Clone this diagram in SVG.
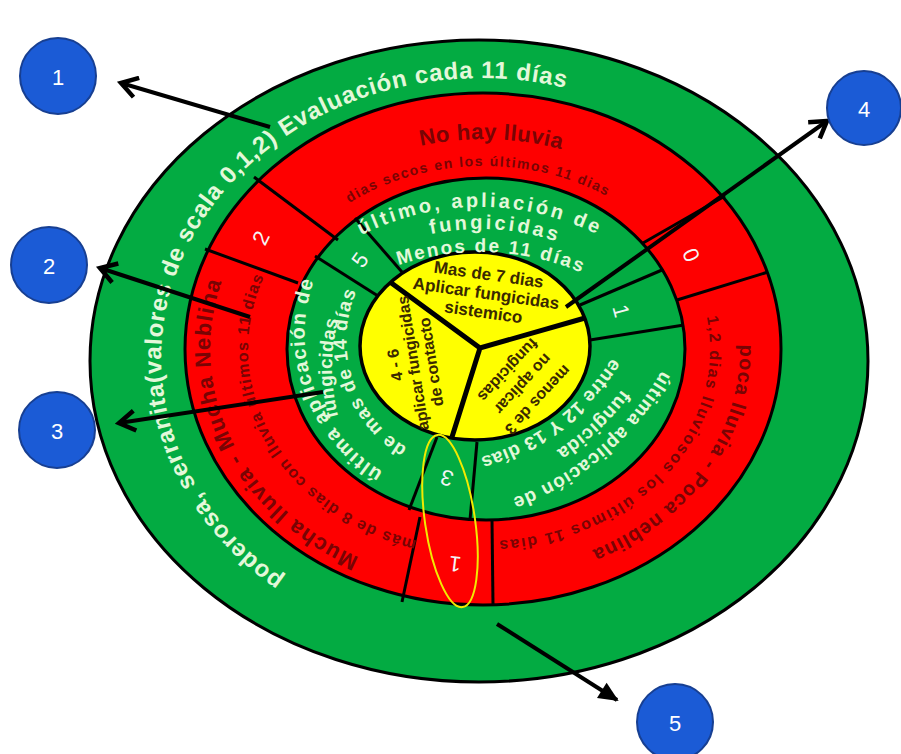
<svg xmlns="http://www.w3.org/2000/svg" width="901" height="754" viewBox="0 0 901 754">
<style>
.t{font-family:"Liberation Sans",Arial,sans-serif;font-weight:bold}
.lt{fill:#e3f8da}
.rt{fill:#780404}
.yt{fill:#3a2900;font-size:17px}
.yl{fill:#3a2900;font-size:16px}
.num{font-family:"Liberation Sans",Arial,sans-serif;font-size:22px;fill:#f4f4f4;text-anchor:middle;dominant-baseline:central}
.div{stroke:#000;stroke-width:3;fill:none}
.ring{stroke:#000;stroke-width:3}
.arrow{stroke:#000;stroke-width:4;fill:none}
.badge circle{fill:#1b5bd6;stroke:#173f92;stroke-width:2}
.badge text{font-family:"Liberation Sans",Arial,sans-serif;font-size:22px;fill:#fff;text-anchor:middle;dominant-baseline:central}
</style>
<defs>
<marker id="chev" viewBox="0 0 24 24" refX="20" refY="12" markerWidth="24" markerHeight="24" markerUnits="userSpaceOnUse" orient="auto"><path d="M4,2 L20,12 L4,22" fill="none" stroke="#000" stroke-width="4.5"/></marker>
<marker id="tri" viewBox="0 0 24 24" refX="20" refY="12" markerWidth="24" markerHeight="24" markerUnits="userSpaceOnUse" orient="auto"><path d="M2,3 L22,12 L2,21 z" fill="#000"/></marker>
<path id="pOuter" d="M284,578.6 A320,280 0 0 1 641,115.5"/>
<path id="pNoHay" d="M249.1,277.2 A250,210 0 0 1 724.3,291.1"/>
<path id="pSecos" d="M264.4,317.2 A223,183 0 0 1 700.4,304.7"/>
<path id="pMucha" d="M436.4,579.4 A274,234 0 0 1 262.3,211.5"/>
<path id="pMas8" d="M484,549 A236,200 0 0 1 303.2,220.4"/>
<path id="pPoca" d="M680.1,206.3 A256,222 0 0 1 439.6,567.6"/>
<path id="pLluv" d="M673.5,244.4 A226,192 0 0 1 417.9,532.6"/>
<path id="gT1" d="M252.2,338.5 A263,263 0 0 1 707.8,338.5"/>
<path id="gT2" d="M271.3,349.5 A241,241 0 0 1 688.7,349.5"/>
<path id="gT3" d="M280.8,344.9 A260,260 0 0 1 679.2,344.9"/>
<path id="gL1" d="M436.9,491.8 A160,160 0 0 1 343.2,230.1"/>
<path id="gL2" d="M357.2,462 A188,188 0 0 1 357.2,274"/>
<path id="gL3" d="M445.5,462.6 A125,125 0 0 1 378.9,256.3"/>
<path id="gR1" d="M688.2,305.1 A285,285 0 0 1 442.7,514.7"/>
<path id="gR2" d="M663.5,307.9 A262,262 0 0 1 471.8,486.6"/>
<path id="gR3" d="M637.4,304.2 A236,236 0 0 1 421.1,467.2"/>
</defs>

<g id="wheel">
<ellipse class="ring" cx="479" cy="361" rx="389" ry="321" fill="#03ab42"/>
<ellipse class="ring" cx="483" cy="349" rx="298" ry="256" fill="#fe0000"/>
<ellipse class="ring" cx="486" cy="349" rx="199" ry="171" fill="#03ab42"/>
<ellipse cx="475" cy="346" rx="115" ry="94" fill="#ffff00" stroke="#000" stroke-width="3.5"/>
</g>

<g id="dividers">
<line class="div" x1="254" y1="177" x2="338" y2="240"/>
<line class="div" x1="205" y1="249" x2="298" y2="283"/>
<line class="div" x1="643" y1="243" x2="725" y2="196"/>
<line class="div" x1="677" y1="300" x2="768" y2="272"/>
<line class="div" x1="420" y1="517" x2="402" y2="602"/>
<line class="div" x1="492" y1="520" x2="493" y2="605"/>
<line class="div" x1="355" y1="218" x2="402" y2="272"/>
<line class="div" x1="315" y1="256" x2="378" y2="296"/>
<line class="div" x1="580" y1="305" x2="662" y2="270"/>
<line class="div" x1="590" y1="340" x2="684" y2="325"/>
<line class="div" x1="437" y1="437" x2="409" y2="510"/>
<line class="div" x1="477" y1="442" x2="470" y2="520"/>
<path d="M390,282 L480,348 L585,318 M480,348 L452,437" fill="none" stroke="#000" stroke-width="5"/>
</g>

<g id="outer-ring-text">
<text class="t lt" font-size="24" letter-spacing="0.8"><textPath href="#pOuter">poderosa, serranita(valores de scala 0,1,2) Evaluación cada 11 días</textPath></text>
</g>

<g id="red-ring-text">
<text class="t rt" font-size="22" letter-spacing="0.5" text-anchor="middle"><textPath href="#pNoHay" startOffset="50%">No hay lluvia</textPath></text>
<text class="t rt" font-size="14" letter-spacing="1.5" text-anchor="middle"><textPath href="#pSecos" startOffset="50%">dias secos en los últimos 11 dias</textPath></text>
<text class="t rt" font-size="22" letter-spacing="1.2" text-anchor="middle"><textPath href="#pMucha" startOffset="50%">Mucha lluvia - Mucha Neblina</textPath></text>
<text class="t rt" font-size="16" letter-spacing="1.2" text-anchor="middle"><textPath href="#pMas8" startOffset="50%">más de 8 dias con lluvia últimos 11 dias</textPath></text>
<text class="t rt" font-size="20" letter-spacing="1" text-anchor="middle"><textPath href="#pPoca" startOffset="50%">poca lluvia - Poca neblina</textPath></text>
<text class="t rt" font-size="16" letter-spacing="1.8" text-anchor="middle"><textPath href="#pLluv" startOffset="50%">1,2 dias lluviosos los últimos 11 dias</textPath></text>
<text class="num" transform="translate(261,238) rotate(-64)">2</text>
<text class="num" transform="translate(691,255) rotate(66)">0</text>
<text class="num" transform="translate(455,564) rotate(187)">1</text>
</g>

<g id="green-ring-text">
<text class="t lt" font-size="20" letter-spacing="3" text-anchor="middle"><textPath href="#gT1" startOffset="50%">último, apliación de</textPath></text>
<text class="t lt" font-size="20" letter-spacing="3" text-anchor="middle"><textPath href="#gT2" startOffset="53%">fungicidas</textPath></text>
<text class="t lt" font-size="19" letter-spacing="2" text-anchor="middle"><textPath href="#gT3" startOffset="52.5%">Menos de 11 días</textPath></text>
<text class="t lt" font-size="20" letter-spacing="1.5" text-anchor="middle"><textPath href="#gL1" startOffset="50%">última aplicación de</textPath></text>
<text class="t lt" font-size="19" letter-spacing="0.3" text-anchor="middle"><textPath href="#gL2" startOffset="50%">fungicidas</textPath></text>
<text class="t lt" font-size="19" letter-spacing="1" text-anchor="middle"><textPath href="#gL3" startOffset="50%">de mas de 14 días</textPath></text>
<text class="t lt" font-size="19" letter-spacing="1" text-anchor="middle"><textPath href="#gR1" startOffset="50%">última aplicación de</textPath></text>
<text class="t lt" font-size="19" letter-spacing="0.7" text-anchor="middle"><textPath href="#gR2" startOffset="50%">fungicida</textPath></text>
<text class="t lt" font-size="19" letter-spacing="0.5" text-anchor="middle"><textPath href="#gR3" startOffset="50%">entre 12 Y 13 días</textPath></text>
<text class="num" transform="translate(360,260) rotate(-54)">5</text>
<text class="num" transform="translate(621,311) rotate(75)">1</text>
<text class="num" transform="translate(447,478) rotate(197)">3</text>
</g>

<g id="yellow-text">
<g transform="rotate(8 486 294)">
<text class="t yt" x="486" y="280" text-anchor="middle">Mas de 7 dias</text>
<text class="t yt" x="486" y="299" text-anchor="middle">Aplicar fungicidas</text>
<text class="t yt" x="486" y="318" text-anchor="middle">sistemico</text>
</g>
<text class="t yl" text-anchor="middle" dominant-baseline="central" transform="translate(395,365) rotate(-99)">4 - 6</text>
<text class="t yl" text-anchor="middle" dominant-baseline="central" transform="translate(413,363) rotate(-99)">aplicar fungicidas</text>
<text class="t yl" text-anchor="middle" dominant-baseline="central" transform="translate(431,362) rotate(-99)">de contacto</text>
<text class="t yl" text-anchor="middle" dominant-baseline="central" transform="translate(538,400) rotate(133)">menos de 3</text>
<text class="t yl" text-anchor="middle" dominant-baseline="central" transform="translate(523,384) rotate(133)">no aplicar</text>
<text class="t yl" text-anchor="middle" dominant-baseline="central" transform="translate(508,370) rotate(133)">fungicidas</text>
</g>

<ellipse id="highlight" cx="450" cy="521" rx="25" ry="87" transform="rotate(-8.3 450 521)" fill="none" stroke="#f2ea00" stroke-width="2"/>

<g id="connectors">
<line class="arrow" x1="270" y1="127" x2="121" y2="83" marker-end="url(#chev)"/>
<line class="arrow" x1="250" y1="317" x2="100" y2="268" marker-end="url(#chev)"/>
<line class="arrow" x1="323" y1="392" x2="119" y2="423" marker-end="url(#chev)"/>
<line class="arrow" x1="566" y1="307" x2="827" y2="121" marker-end="url(#chev)"/>
<line class="arrow" x1="497" y1="624" x2="617" y2="700" marker-end="url(#tri)"/>
</g>

<g id="node1" class="badge"><circle cx="58" cy="76" r="38"/><text x="58" y="77">1</text></g>
<g id="node2" class="badge"><circle cx="49" cy="265" r="38"/><text x="49" y="266">2</text></g>
<g id="node3" class="badge"><circle cx="57" cy="430" r="38"/><text x="57" y="431">3</text></g>
<g id="node4" class="badge"><circle cx="864" cy="108" r="37"/><text x="864" y="109">4</text></g>
<g id="node5" class="badge"><circle cx="675" cy="722" r="38"/><text x="675" y="723">5</text></g>
</svg>
